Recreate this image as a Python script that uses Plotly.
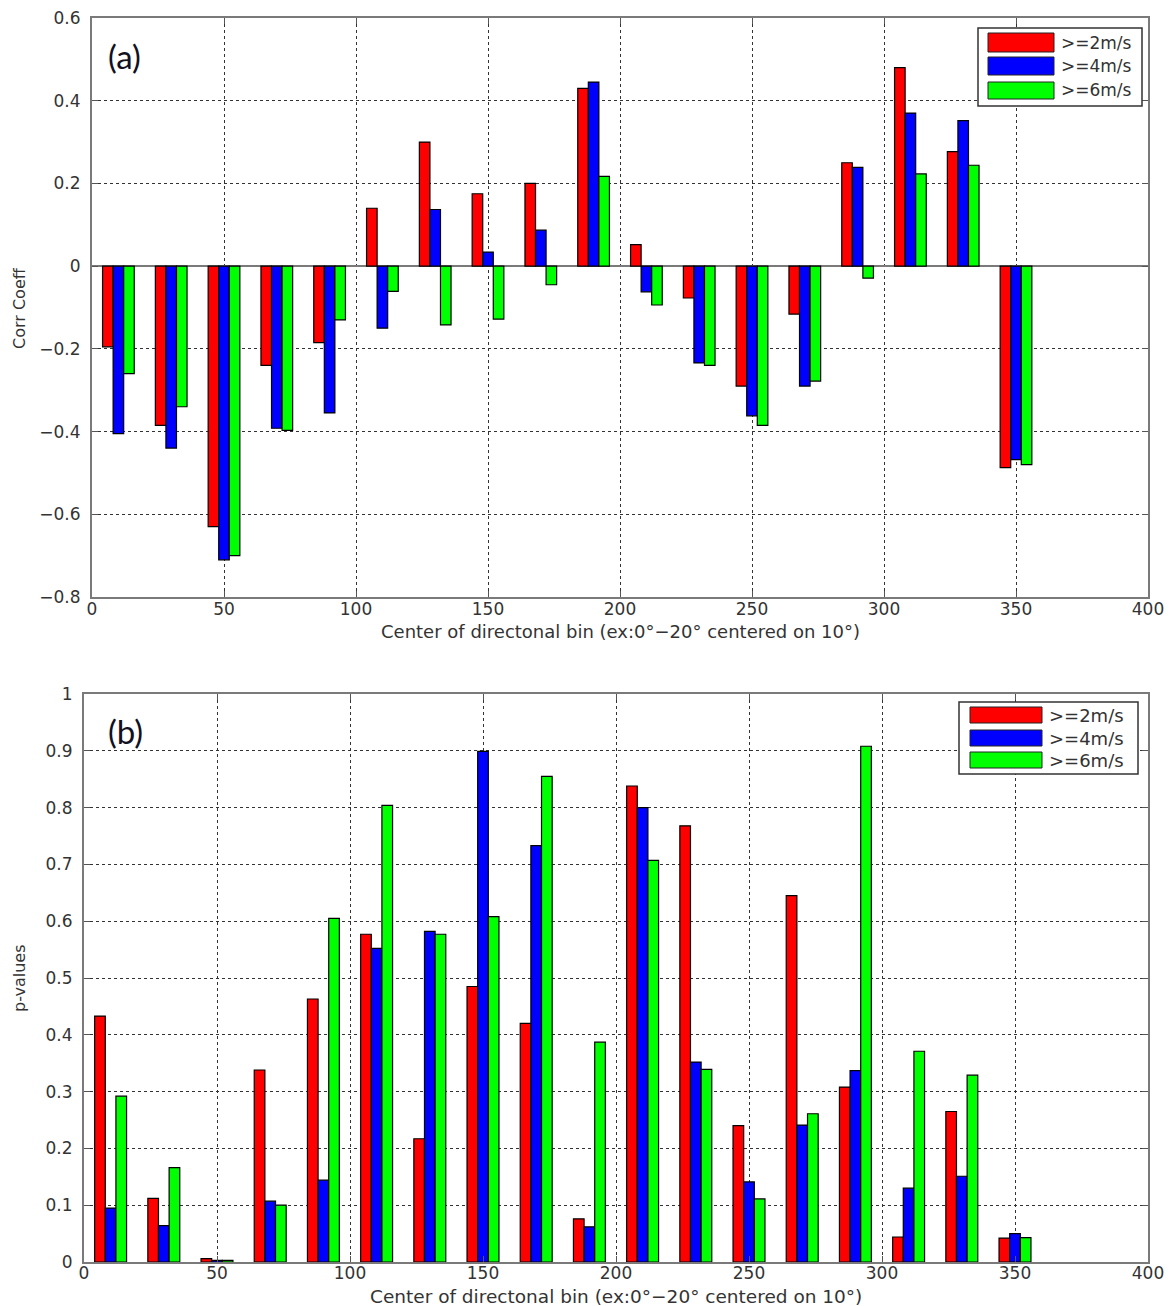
import plotly.graph_objects as go

# Directional bin centres (deg) -- 20-degree bins
bin_centers = [10, 30, 50, 70, 90, 110, 130, 150, 170, 190, 210, 230, 250, 270, 290, 310, 330, 350]
series_names = [">=2m/s", ">=4m/s", ">=6m/s"]
series_colors = ["#ff0000", "#0000ff", "#00ff00"]

# (a) correlation coefficients per wind-speed threshold
corr_2ms = [-0.195, -0.385, -0.63, -0.24, -0.185, 0.14, 0.30, 0.175, 0.20, 0.43,
            0.052, -0.077, -0.29, -0.116, 0.25, 0.48, 0.277, -0.487]
corr_4ms = [-0.405, -0.44, -0.71, -0.392, -0.355, -0.15, 0.137, 0.034, 0.087, 0.445,
            -0.062, -0.234, -0.362, -0.29, 0.239, 0.37, 0.352, -0.468]
corr_6ms = [-0.26, -0.34, -0.70, -0.397, -0.13, -0.061, -0.142, -0.128, -0.045, 0.217,
            -0.094, -0.24, -0.385, -0.278, -0.029, 0.223, 0.244, -0.48]

# (b) p-values per wind-speed threshold
p_2ms = [0.433, 0.112, 0.006, 0.338, 0.463, 0.577, 0.217, 0.485, 0.42, 0.076,
         0.838, 0.768, 0.24, 0.645, 0.308, 0.044, 0.265, 0.042]
p_4ms = [0.095, 0.064, 0.003, 0.107, 0.144, 0.552, 0.582, 0.899, 0.733, 0.062,
         0.80, 0.352, 0.141, 0.241, 0.337, 0.13, 0.151, 0.05]
p_6ms = [0.292, 0.166, 0.003, 0.10, 0.605, 0.804, 0.577, 0.608, 0.855, 0.387,
         0.707, 0.339, 0.111, 0.261, 0.908, 0.371, 0.329, 0.043]

x_ticks = [0, 50, 100, 150, 200, 250, 300, 350, 400]
corr_ticks = [-0.8, -0.6, -0.4, -0.2, 0, 0.2, 0.4, 0.6]
p_ticks = [0, 0.1, 0.2, 0.3, 0.4, 0.5, 0.6, 0.7, 0.8, 0.9, 1]

x_title = "Center of directonal bin (ex:0°−20° centered on 10°)"

W, H = 1170, 1306


def fx(px):
    return px / W


def fy(py):
    return 1 - py / H


fig = go.Figure()

for name, color, vals in zip(series_names, series_colors, [corr_2ms, corr_4ms, corr_6ms]):
    fig.add_trace(go.Bar(x=bin_centers, y=vals, name=name, marker_color=color,
                         marker_line_color="black", marker_line_width=1.2,
                         xaxis="x", yaxis="y", showlegend=False))

for name, color, vals in zip(series_names, series_colors, [p_2ms, p_4ms, p_6ms]):
    fig.add_trace(go.Bar(x=bin_centers, y=vals, name=name, marker_color=color,
                         marker_line_color="black", marker_line_width=1.2,
                         xaxis="x2", yaxis="y2", showlegend=False))

axis_common = dict(
    showline=True, linecolor="#7a7a7a", linewidth=2, mirror="ticks",
    ticks="inside", ticklen=6, tickcolor="#555555", tickwidth=1,
    showgrid=True, gridcolor="#333333", griddash="dot", gridwidth=1,
    automargin=False, tickfont=dict(size=17),
)

fig.update_layout(
    width=W, height=H, autosize=False,
    margin=dict(l=0, r=0, t=0, b=0),
    paper_bgcolor="white", plot_bgcolor="white",
    barmode="group", bargap=0.4, bargroupgap=0,
    font=dict(family="DejaVu Sans", color="#333333"),
    xaxis=dict(axis_common, domain=[fx(92), fx(1148)], range=[0, 400],
               tickvals=x_ticks, anchor="y", zeroline=False, ticklabelstandoff=-4),
    yaxis=dict(axis_common, domain=[fy(597), fy(18)], range=[-0.8, 0.6],
               tickvals=corr_ticks, anchor="x",
               zeroline=True, zerolinecolor="#7a7a7a", zerolinewidth=1.5,
               ticklabelstandoff=6),
    xaxis2=dict(axis_common, domain=[fx(84), fx(1148)], range=[0, 400],
                tickvals=x_ticks, anchor="y2", zeroline=False, ticklabelstandoff=-5),
    yaxis2=dict(axis_common, domain=[fy(1262), fy(694)], range=[0, 1],
                tickvals=p_ticks, anchor="x2", zeroline=False, ticklabelstandoff=6),
)


def note(text, x, y, size, family="DejaVu Sans", color="#333333", angle=0):
    fig.add_annotation(text=text, x=fx(x), y=fy(y), xref="paper", yref="paper",
                       xanchor="center", yanchor="middle", showarrow=False,
                       textangle=angle, font=dict(family=family, size=size, color=color))


# Axis titles
note(x_title, 620, 631, 18)
note(x_title, 616, 1296, 18.5)
note("Corr Coeff", 19, 308, 16, angle=-90)
note("p-values", 19, 978, 16, angle=-90)

# Panel tags
note("(a)", 124, 56, 33, family="Lato", color="#111122")
note("(b)", 125, 731, 33, family="Lato", color="#111122")


def draw_legend(box, swatch_x, rows, text_x, font_size):
    x0, y0, x1, y1 = box
    fig.add_shape(type="rect", xref="paper", yref="paper",
                  x0=fx(x0), x1=fx(x1), y0=fy(y1), y1=fy(y0),
                  line=dict(color="#333333", width=1.5), fillcolor="white")
    for (ya, yb), name, color in zip(rows, series_names, series_colors):
        fig.add_shape(type="rect", xref="paper", yref="paper",
                      x0=fx(swatch_x[0]), x1=fx(swatch_x[1]), y0=fy(yb), y1=fy(ya),
                      line=dict(color="#222222", width=1), fillcolor=color)
        fig.add_annotation(text=name, x=fx(text_x), y=fy((ya + yb) / 2),
                           xref="paper", yref="paper", xanchor="left", yanchor="middle",
                           showarrow=False, font=dict(size=font_size, color="#333333"))


draw_legend((978, 28, 1142, 106), (988, 1054), [(33, 52), (57, 75), (82, 99)], 1059, 17)
draw_legend((959, 702, 1138, 774), (970, 1042), [(707, 723), (730, 746), (752, 768)], 1047, 18)

fig.write_html("out.html")
